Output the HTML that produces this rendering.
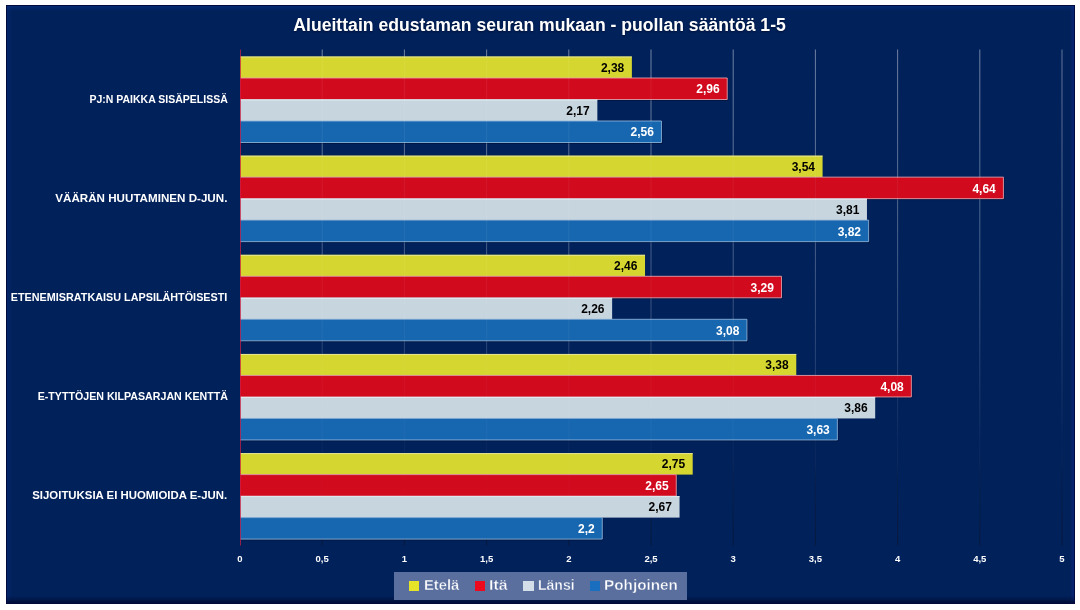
<!DOCTYPE html>
<html lang="fi">
<head>
<meta charset="utf-8">
<title>Alueittain edustaman seuran mukaan - puollan sääntöä 1-5</title>
<style>
html,body{margin:0;padding:0;background:#fff;}
body{width:1080px;height:610px;overflow:hidden;position:relative;font-family:"Liberation Sans",sans-serif;font-weight:bold;}
.panel{position:absolute;left:6px;top:5px;width:1068.8px;height:598.7px;box-sizing:border-box;border:1.2px solid #000a3c;
 background:
  linear-gradient(to top,rgba(0,6,44,.85),rgba(0,10,50,.45) 3px,rgba(0,15,60,0) 7.5px),
  linear-gradient(to bottom,rgba(12,55,150,.42),rgba(12,55,150,.20) 2.5px,rgba(12,55,150,0) 5px),
  linear-gradient(to right,rgba(10,45,130,.35),rgba(10,45,130,.15) 3px,rgba(10,45,130,0) 5px),
  linear-gradient(to left,rgba(14,40,140,.55),rgba(14,40,140,.25) 2.5px,rgba(14,40,140,0) 4px),
  #01215b;}
.title{position:absolute;left:0;width:1080px;top:14px;height:22px;line-height:22px;text-align:center;color:#fff;font-size:18px;white-space:nowrap;text-shadow:0 1px 2px rgba(0,0,20,.55);}
.title span{display:inline-block;transform:scaleX(.979);transform-origin:50% 50%;}
svg.plot{position:absolute;left:0;top:0;}
.dl{position:absolute;font-size:12px;line-height:14px;height:14px;width:60px;text-align:right;white-space:nowrap;}
.dl.y,.dl.g{color:#000;}
.dl.r,.dl.b{color:#fff;}
.cat{position:absolute;left:0;width:227.5px;text-align:right;color:#fff;font-size:11.3px;line-height:14px;height:14px;white-space:nowrap;}
.cat span{display:inline-block;transform-origin:100% 50%;}
.tick{position:absolute;width:40px;text-align:center;color:#fff;font-size:9.5px;line-height:12px;height:12px;top:553px;}
.legend{position:absolute;left:393.5px;top:571.6px;width:293.5px;height:28.4px;background:#5a6f9e;}
.sw{position:absolute;top:9px;width:10.4px;height:10.4px;}
.lt{position:absolute;top:2px;height:22px;line-height:22px;color:#fff;font-size:15px;white-space:nowrap;-webkit-text-stroke:.4px #5a6f9e;}
.lt span{display:inline-block;transform-origin:0 50%;}
</style>
</head>
<body>
<div class="panel"></div>
<div class="title"><span>Alueittain edustaman seuran mukaan - puollan sääntöä 1-5</span></div>
<svg class="plot" width="1080" height="610" viewBox="0 0 1080 610">
<defs>
<linearGradient id="gl" x1="0" y1="0" x2="0" y2="1">
<stop offset="0" stop-color="#fff" stop-opacity=".38"/>
<stop offset=".2" stop-color="#fff" stop-opacity=".31"/>
<stop offset=".45" stop-color="#fff" stop-opacity=".21"/>
<stop offset=".6" stop-color="#fff" stop-opacity=".13"/>
<stop offset=".74" stop-color="#fff" stop-opacity=".05"/>
<stop offset=".8" stop-color="#808080" stop-opacity=".02"/>
<stop offset=".86" stop-color="#100808" stop-opacity=".18"/>
<stop offset="1" stop-color="#100808" stop-opacity=".38"/>
</linearGradient>
<linearGradient id="gl2" x1="0" y1="0" x2="0" y2="1">
<stop offset="0" stop-color="#fff" stop-opacity=".07"/>
<stop offset=".5" stop-color="#fff" stop-opacity=".05"/>
<stop offset="1" stop-color="#fff" stop-opacity="0"/>
</linearGradient>
</defs>
<rect x="321.70" y="49.5" width="1" height="496.0" fill="url(#gl)"/>
<rect x="403.90" y="49.5" width="1" height="496.0" fill="url(#gl)"/>
<rect x="486.10" y="49.5" width="1" height="496.0" fill="url(#gl)"/>
<rect x="568.30" y="49.5" width="1" height="496.0" fill="url(#gl)"/>
<rect x="650.50" y="49.5" width="1" height="496.0" fill="url(#gl)"/>
<rect x="732.70" y="49.5" width="1" height="496.0" fill="url(#gl)"/>
<rect x="814.90" y="49.5" width="1" height="496.0" fill="url(#gl)"/>
<rect x="897.10" y="49.5" width="1" height="496.0" fill="url(#gl)"/>
<rect x="979.30" y="49.5" width="1" height="496.0" fill="url(#gl)"/>
<rect x="1061.50" y="49.5" width="1" height="496.0" fill="url(#gl)"/>
<rect x="240.0" y="56.50" width="391.87" height="21.50" fill="#d5d62f"/>
<rect x="240.0" y="56.50" width="391.87" height="1" fill="#e9e9a6" fill-opacity=".85"/>
<path d="M240.0 78.00 H727.22 V99.50 H240.0" fill="none" stroke="#000018" stroke-opacity=".35" stroke-width="1" transform="translate(.6 .9)"/>
<path d="M240.0 78.00 H727.22 V99.50 H240.0 Z" fill="#d10a1e"/>
<path d="M240.0 78.00 H727.22 V99.50 H240.0" fill="none" stroke="#eaa3ab" stroke-width="1" stroke-opacity=".85"/>
<rect x="240.0" y="99.50" width="357.35" height="21.50" fill="#c7d5df"/>
<rect x="240.0" y="99.50" width="357.35" height="1" fill="#e6eef4" fill-opacity=".85"/>
<path d="M240.0 121.00 H661.46 V142.50 H240.0" fill="none" stroke="#000018" stroke-opacity=".35" stroke-width="1" transform="translate(.6 .9)"/>
<path d="M240.0 121.00 H661.46 V142.50 H240.0 Z" fill="#1767b0"/>
<path d="M240.0 121.00 H661.46 V142.50 H240.0" fill="none" stroke="#8fb5dc" stroke-width="1" stroke-opacity=".85"/>
<rect x="240.0" y="155.65" width="582.58" height="21.50" fill="#d5d62f"/>
<rect x="240.0" y="155.65" width="582.58" height="1" fill="#e9e9a6" fill-opacity=".85"/>
<path d="M240.0 177.15 H1003.42 V198.65 H240.0" fill="none" stroke="#000018" stroke-opacity=".35" stroke-width="1" transform="translate(.6 .9)"/>
<path d="M240.0 177.15 H1003.42 V198.65 H240.0 Z" fill="#d10a1e"/>
<path d="M240.0 177.15 H1003.42 V198.65 H240.0" fill="none" stroke="#eaa3ab" stroke-width="1" stroke-opacity=".85"/>
<rect x="240.0" y="198.65" width="626.96" height="21.50" fill="#c7d5df"/>
<rect x="240.0" y="198.65" width="626.96" height="1" fill="#e6eef4" fill-opacity=".85"/>
<path d="M240.0 220.15 H868.61 V241.65 H240.0" fill="none" stroke="#000018" stroke-opacity=".35" stroke-width="1" transform="translate(.6 .9)"/>
<path d="M240.0 220.15 H868.61 V241.65 H240.0 Z" fill="#1767b0"/>
<path d="M240.0 220.15 H868.61 V241.65 H240.0" fill="none" stroke="#8fb5dc" stroke-width="1" stroke-opacity=".85"/>
<rect x="240.0" y="254.80" width="405.02" height="21.50" fill="#d5d62f"/>
<rect x="240.0" y="254.80" width="405.02" height="1" fill="#e9e9a6" fill-opacity=".85"/>
<path d="M240.0 276.30 H781.48 V297.80 H240.0" fill="none" stroke="#000018" stroke-opacity=".35" stroke-width="1" transform="translate(.6 .9)"/>
<path d="M240.0 276.30 H781.48 V297.80 H240.0 Z" fill="#d10a1e"/>
<path d="M240.0 276.30 H781.48 V297.80 H240.0" fill="none" stroke="#eaa3ab" stroke-width="1" stroke-opacity=".85"/>
<rect x="240.0" y="297.80" width="372.14" height="21.50" fill="#c7d5df"/>
<rect x="240.0" y="297.80" width="372.14" height="1" fill="#e6eef4" fill-opacity=".85"/>
<path d="M240.0 319.30 H746.95 V340.80 H240.0" fill="none" stroke="#000018" stroke-opacity=".35" stroke-width="1" transform="translate(.6 .9)"/>
<path d="M240.0 319.30 H746.95 V340.80 H240.0 Z" fill="#1767b0"/>
<path d="M240.0 319.30 H746.95 V340.80 H240.0" fill="none" stroke="#8fb5dc" stroke-width="1" stroke-opacity=".85"/>
<rect x="240.0" y="353.95" width="556.27" height="21.50" fill="#d5d62f"/>
<rect x="240.0" y="353.95" width="556.27" height="1" fill="#e9e9a6" fill-opacity=".85"/>
<path d="M240.0 375.45 H911.35 V396.95 H240.0" fill="none" stroke="#000018" stroke-opacity=".35" stroke-width="1" transform="translate(.6 .9)"/>
<path d="M240.0 375.45 H911.35 V396.95 H240.0 Z" fill="#d10a1e"/>
<path d="M240.0 375.45 H911.35 V396.95 H240.0" fill="none" stroke="#eaa3ab" stroke-width="1" stroke-opacity=".85"/>
<rect x="240.0" y="396.95" width="635.18" height="21.50" fill="#c7d5df"/>
<rect x="240.0" y="396.95" width="635.18" height="1" fill="#e6eef4" fill-opacity=".85"/>
<path d="M240.0 418.45 H837.37 V439.95 H240.0" fill="none" stroke="#000018" stroke-opacity=".35" stroke-width="1" transform="translate(.6 .9)"/>
<path d="M240.0 418.45 H837.37 V439.95 H240.0 Z" fill="#1767b0"/>
<path d="M240.0 418.45 H837.37 V439.95 H240.0" fill="none" stroke="#8fb5dc" stroke-width="1" stroke-opacity=".85"/>
<rect x="240.0" y="453.10" width="452.70" height="21.50" fill="#d5d62f"/>
<rect x="240.0" y="453.10" width="452.70" height="1" fill="#e9e9a6" fill-opacity=".85"/>
<path d="M240.0 474.60 H676.26 V496.10 H240.0" fill="none" stroke="#000018" stroke-opacity=".35" stroke-width="1" transform="translate(.6 .9)"/>
<path d="M240.0 474.60 H676.26 V496.10 H240.0 Z" fill="#d10a1e"/>
<path d="M240.0 474.60 H676.26 V496.10 H240.0" fill="none" stroke="#eaa3ab" stroke-width="1" stroke-opacity=".85"/>
<rect x="240.0" y="496.10" width="439.55" height="21.50" fill="#c7d5df"/>
<rect x="240.0" y="496.10" width="439.55" height="1" fill="#e6eef4" fill-opacity=".85"/>
<path d="M240.0 517.60 H602.28 V539.10 H240.0" fill="none" stroke="#000018" stroke-opacity=".35" stroke-width="1" transform="translate(.6 .9)"/>
<path d="M240.0 517.60 H602.28 V539.10 H240.0 Z" fill="#1767b0"/>
<path d="M240.0 517.60 H602.28 V539.10 H240.0" fill="none" stroke="#8fb5dc" stroke-width="1" stroke-opacity=".85"/>
<rect x="321.70" y="49.5" width="1" height="496.0" fill="url(#gl2)"/>
<rect x="403.90" y="49.5" width="1" height="496.0" fill="url(#gl2)"/>
<rect x="486.10" y="49.5" width="1" height="496.0" fill="url(#gl2)"/>
<rect x="568.30" y="49.5" width="1" height="496.0" fill="url(#gl2)"/>
<rect x="650.50" y="49.5" width="1" height="496.0" fill="url(#gl2)"/>
<rect x="732.70" y="49.5" width="1" height="496.0" fill="url(#gl2)"/>
<rect x="814.90" y="49.5" width="1" height="496.0" fill="url(#gl2)"/>
<rect x="897.10" y="49.5" width="1" height="496.0" fill="url(#gl2)"/>
<rect x="979.30" y="49.5" width="1" height="496.0" fill="url(#gl2)"/>
<rect x="240" y="49.5" width="1" height="496.0" fill="#c81e46" fill-opacity=".75"/>
</svg>
<div class="dl y" style="left:564.3px;top:60.85px">2,38</div>
<div class="dl r" style="left:659.6px;top:82.35px">2,96</div>
<div class="dl g" style="left:529.7px;top:103.85px">2,17</div>
<div class="dl b" style="left:593.9px;top:125.35px">2,56</div>
<div class="cat" style="top:91.60px"><span style="transform:scaleX(0.930)">PJ:N PAIKKA SISÄPELISSÄ</span></div>
<div class="dl y" style="left:755.0px;top:160.00px">3,54</div>
<div class="dl r" style="left:935.8px;top:181.50px">4,64</div>
<div class="dl g" style="left:799.4px;top:203.00px">3,81</div>
<div class="dl b" style="left:801.0px;top:224.50px">3,82</div>
<div class="cat" style="top:190.75px"><span style="transform:scaleX(1.028)">VÄÄRÄN HUUTAMINEN D-JUN.</span></div>
<div class="dl y" style="left:577.4px;top:259.15px">2,46</div>
<div class="dl r" style="left:713.9px;top:280.65px">3,29</div>
<div class="dl g" style="left:544.5px;top:302.15px">2,26</div>
<div class="dl b" style="left:679.4px;top:323.65px">3,08</div>
<div class="cat" style="top:289.90px"><span style="transform:scaleX(0.957)">ETENEMISRATKAISU LAPSILÄHTÖISESTI</span></div>
<div class="dl y" style="left:728.7px;top:358.30px">3,38</div>
<div class="dl r" style="left:843.8px;top:379.80px">4,08</div>
<div class="dl g" style="left:807.6px;top:401.30px">3,86</div>
<div class="dl b" style="left:769.8px;top:422.80px">3,63</div>
<div class="cat" style="top:389.05px"><span style="transform:scaleX(0.942)">E-TYTTÖJEN KILPASARJAN KENTTÄ</span></div>
<div class="dl y" style="left:625.1px;top:457.45px">2,75</div>
<div class="dl r" style="left:608.7px;top:478.95px">2,65</div>
<div class="dl g" style="left:611.9px;top:500.45px">2,67</div>
<div class="dl b" style="left:534.7px;top:521.95px">2,2</div>
<div class="cat" style="top:488.20px"><span style="transform:scaleX(1.009)">SIJOITUKSIA EI HUOMIOIDA E-JUN.</span></div>
<div class="tick" style="left:220.0px">0</div>
<div class="tick" style="left:302.2px">0,5</div>
<div class="tick" style="left:384.4px">1</div>
<div class="tick" style="left:466.6px">1,5</div>
<div class="tick" style="left:548.8px">2</div>
<div class="tick" style="left:631.0px">2,5</div>
<div class="tick" style="left:713.2px">3</div>
<div class="tick" style="left:795.4px">3,5</div>
<div class="tick" style="left:877.6px">4</div>
<div class="tick" style="left:959.8px">4,5</div>
<div class="tick" style="left:1042.0px">5</div>
<div class="legend">
<div class="sw" style="left:15.5px;background:#e6e428"></div>
<div class="lt" style="left:30.3px"><span style="transform:scaleX(0.980)">Etelä</span></div>
<div class="sw" style="left:81.4px;background:#ee0a1e"></div>
<div class="lt" style="left:95.3px"><span style="transform:scaleX(1.060)">Itä</span></div>
<div class="sw" style="left:129.8px;background:#d3dee8"></div>
<div class="lt" style="left:144.8px"><span style="transform:scaleX(0.935)">Länsi</span></div>
<div class="sw" style="left:196.0px;background:#1a6ec0"></div>
<div class="lt" style="left:210.3px"><span style="transform:scaleX(1.020)">Pohjoinen</span></div>
</div>
</body>
</html>
